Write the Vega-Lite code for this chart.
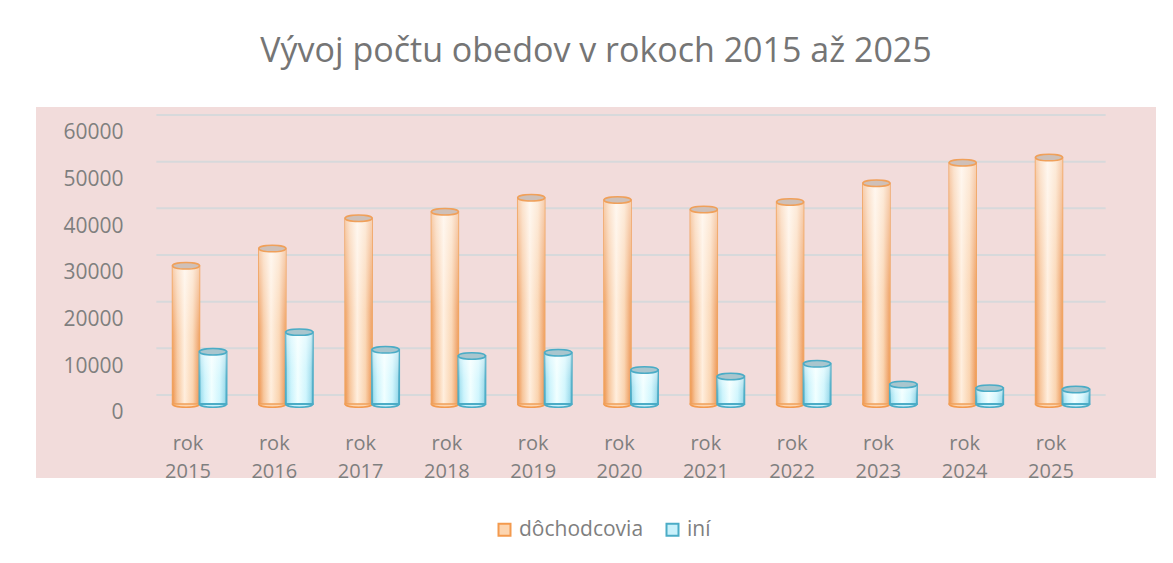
{
  "$schema": "https://vega.github.io/schema/vega-lite/v6.json",
  "width": 1120,
  "height": 371,
  "autosize": "none",
  "padding": {"left": 36, "top": 107, "right": 17, "bottom": 85},
  "background": "white",
  "config": {"view": {"fill": "#F2DCDB", "stroke": null}, "font": "Open Sans"},
  "title": {"text": "Vývoj počtu obedov v rokoch 2015 až 2025", "fontSize": 34, "font": "Open Sans", "fontWeight": "normal", "color": "#757575", "anchor": "middle", "baseline": "alphabetic", "offset": 11},
  "datasets": {
    "obedy": [
      {"rok": "rok 2015", "s": "dôchodcovia", "v": 29600}, {"rok": "rok 2015", "s": "iní", "v": 11200},
      {"rok": "rok 2016", "s": "dôchodcovia", "v": 33300}, {"rok": "rok 2016", "s": "iní", "v": 15400},
      {"rok": "rok 2017", "s": "dôchodcovia", "v": 39800}, {"rok": "rok 2017", "s": "iní", "v": 11600},
      {"rok": "rok 2018", "s": "dôchodcovia", "v": 41200}, {"rok": "rok 2018", "s": "iní", "v": 10300},
      {"rok": "rok 2019", "s": "dôchodcovia", "v": 44200}, {"rok": "rok 2019", "s": "iní", "v": 11000},
      {"rok": "rok 2020", "s": "dôchodcovia", "v": 43700}, {"rok": "rok 2020", "s": "iní", "v": 7300},
      {"rok": "rok 2021", "s": "dôchodcovia", "v": 41700}, {"rok": "rok 2021", "s": "iní", "v": 5900},
      {"rok": "rok 2022", "s": "dôchodcovia", "v": 43300}, {"rok": "rok 2022", "s": "iní", "v": 8600},
      {"rok": "rok 2023", "s": "dôchodcovia", "v": 47300}, {"rok": "rok 2023", "s": "iní", "v": 4200},
      {"rok": "rok 2024", "s": "dôchodcovia", "v": 51700}, {"rok": "rok 2024", "s": "iní", "v": 3400},
      {"rok": "rok 2025", "s": "dôchodcovia", "v": 52800}, {"rok": "rok 2025", "s": "iní", "v": 3100}
    ],
    "mriezka": [{"v": 0}, {"v": 10000}, {"v": 20000}, {"v": 30000}, {"v": 40000}, {"v": 50000}, {"v": 60000}]
  },
  "data": {"name": "obedy"},
  "layer": [
    {
      "data": {"name": "mriezka"},
      "mark": {"type": "rule", "stroke": "#D7D9DB", "strokeWidth": 2, "yOffset": -9},
      "encoding": {
        "x": {"datum": "rok 2015", "type": "nominal", "bandPosition": 0},
        "x2": {"datum": "rok 2025", "bandPosition": 1},
        "y": {"field": "v", "type": "quantitative", "scale": {"domain": [-15857, 63640], "nice": false, "zero": false}}
      }
    },
    {
      "mark": {"type": "point", "shape": "M-1,0A1,0.24,0,1,0,1,0A1,0.24,0,1,0,-1,0Z", "size": 729, "filled": true, "strokeWidth": 1.5, "opacity": 1},
      "encoding": {
        "x": {"field": "rok", "type": "nominal"},
        "xOffset": {"field": "s", "type": "nominal"},
        "y": {"datum": 0, "type": "quantitative"},
        "fill": {"field": "s", "type": "nominal", "scale": {"domain": ["dôchodcovia", "iní"], "range": ["#FCD5B0", "#C9F1FB"]},
          "legend": {"orient": "none", "legendX": 458, "legendY": 412, "direction": "horizontal", "title": null, "symbolType": "square", "symbolSize": 144, "symbolStrokeWidth": 2, "labelFontSize": 21, "labelColor": "#7F7F7F", "labelFont": "Open Sans", "columnPadding": 18, "labelOffset": 4}},
        "stroke": {"field": "s", "type": "nominal", "scale": {"domain": ["dôchodcovia", "iní"], "range": ["#F39A4E", "#4BACC6"]},
          "legend": {"orient": "none", "legendX": 458, "legendY": 412, "direction": "horizontal", "title": null, "symbolType": "square", "symbolSize": 144, "symbolStrokeWidth": 2, "labelFontSize": 21, "labelColor": "#7F7F7F", "labelFont": "Open Sans", "columnPadding": 18, "labelOffset": 4}}
      }
    },
    {
      "transform": [{"filter": "datum.s == 'dôchodcovia'"}],
      "mark": {"type": "bar", "stroke": "#F0A05A", "strokeWidth": 1.5,
        "fill": {"gradient": "linear", "x1": 0, "y1": 0, "x2": 1, "y2": 0, "stops": [
          {"offset": 0, "color": "#EE9550"}, {"offset": 0.18, "color": "#F7C59A"}, {"offset": 0.45, "color": "#FFEEDD"},
          {"offset": 0.75, "color": "#FAD3AE"}, {"offset": 1, "color": "#EC9452"}]}},
      "encoding": {
        "x": {"field": "rok", "type": "nominal", "scale": {"domain": ["rok 2015", "rok 2016", "rok 2017", "rok 2018", "rok 2019", "rok 2020", "rok 2021", "rok 2022", "rok 2023", "rok 2024", "rok 2025"], "paddingInner": 0, "paddingOuter": 0.989, "align": 0.705},
          "axis": {"orient": "bottom", "offset": -45, "domain": false, "ticks": false, "labelPadding": 0, "labelExpr": "split(datum.label, ' ')", "labelFontSize": 20, "labelColor": "#7F7F7F", "labelFont": "Open Sans", "labelLineHeight": 28, "labelOffset": -11.5, "labelAlign": "center", "labelBaseline": "top", "labelAngle": 0, "title": null, "grid": false}},
        "xOffset": {"field": "s", "type": "nominal", "scale": {"domain": ["dôchodcovia", "iní"], "paddingInner": 0, "paddingOuter": 0.6}},
        "y": {"field": "v", "type": "quantitative", "stack": null, "scale": {"domain": [-15857, 63640], "nice": false, "zero": false},
          "axis": {"orient": "left", "offset": -87, "domain": false, "ticks": false, "labelPadding": 0, "values": [0, 10000, 20000, 30000, 40000, 50000, 60000], "format": "d", "labelFontSize": 21, "labelColor": "#7F7F7F", "labelFont": "Open Sans", "labelOffset": 9, "title": null, "grid": false}}
      }
    },
    {
      "transform": [{"filter": "datum.s == 'iní'"}],
      "mark": {"type": "bar", "stroke": "#4BACC6", "strokeWidth": 2,
        "fill": {"gradient": "linear", "x1": 0, "y1": 0, "x2": 1, "y2": 0, "stops": [
          {"offset": 0, "color": "#8FD8EA"}, {"offset": 0.2, "color": "#C8F3FC"}, {"offset": 0.45, "color": "#F0FFFF"},
          {"offset": 0.75, "color": "#CDF5FD"}, {"offset": 1, "color": "#8CD3E6"}]}},
      "encoding": {
        "x": {"field": "rok", "type": "nominal"},
        "xOffset": {"field": "s", "type": "nominal"},
        "y": {"field": "v", "type": "quantitative", "stack": null}
      }
    },
    {
      "mark": {"type": "bar", "strokeWidth": 0,
        "fill": {"gradient": "linear", "x1": 0, "y1": 0, "x2": 0, "y2": 1, "stops": [
          {"offset": 0, "color": "rgba(255,255,255,0.55)"}, {"offset": 0.5, "color": "rgba(255,255,255,0.15)"}, {"offset": 1, "color": "rgba(255,255,255,0)"}]}},
      "encoding": {
        "x": {"field": "rok", "type": "nominal"},
        "xOffset": {"field": "s", "type": "nominal"},
        "y": {"field": "v", "type": "quantitative", "stack": null}
      }
    },
    {
      "mark": {"type": "point", "shape": "M-1,0A1,0.24,0,1,0,1,0A1,0.24,0,1,0,-1,0Z", "size": 729, "filled": true, "strokeWidth": 1.5, "opacity": 1},
      "encoding": {
        "x": {"field": "rok", "type": "nominal"},
        "xOffset": {"field": "s", "type": "nominal"},
        "y": {"field": "v", "type": "quantitative"},
        "fill": {"condition": {"test": "datum.s == 'iní'", "value": "#A9C6CE"}, "value": "#CFC0B8"},
        "stroke": {"condition": {"test": "datum.s == 'iní'", "value": "#4BACC6"}, "value": "#F0A05A"}
      }
    }
  ]
}
